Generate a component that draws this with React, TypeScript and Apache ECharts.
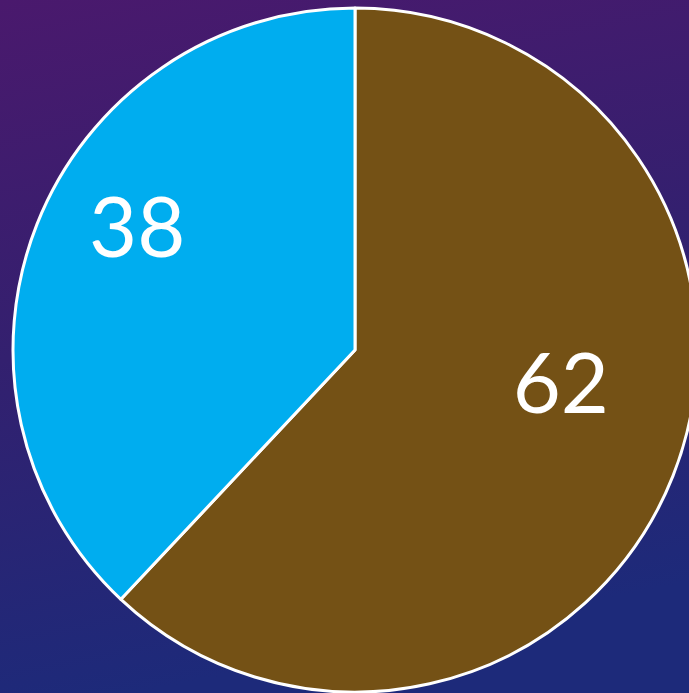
import React, { useEffect, useRef } from "react";
import * as echarts from "echarts";

const categories = ["A", "B"];
const values = [62, 38];
const colors = ["#745115", "#00ADEF"];
const labelShift = [
  [44, -33],
  [-56, -61],
];

export default function App() {
  const ref = useRef<HTMLDivElement>(null);
  useEffect(() => {
    const chart = echarts.init(ref.current!, null, { renderer: "svg" });
    chart.setOption({
      animation: false,
      backgroundColor: {
        type: "linear",
        x: 0,
        y: 0,
        x2: 0.2,
        y2: 1,
        colorStops: [
          { offset: 0, color: "#4a196d" },
          { offset: 0.5, color: "#33206f" },
          { offset: 1, color: "#1d2a7a" },
        ],
      },
      series: [
        {
          type: "pie",
          center: [355, 350],
          radius: [0, 342],
          startAngle: 90,
          clockwise: true,
          avoidLabelOverlap: false,
          itemStyle: { borderColor: "#ffffff", borderWidth: 3 },
          label: {
            show: true,
            position: "inside",
            formatter: "{c}",
            color: "#ffffff",
            fontSize: 83,
            fontFamily: "Lato, 'Open Sans', sans-serif",
          },
          labelLine: { show: false },
          emphasis: { disabled: true },
          labelLayout: (p: any) => ({
            dx: labelShift[p.dataIndex][0],
            dy: labelShift[p.dataIndex][1],
          }),
          data: categories.map((c, i) => ({
            name: c,
            value: values[i],
            itemStyle: { color: colors[i] },
          })),
        },
      ],
    });
    return () => chart.dispose();
  }, []);
  return (
    <div
      ref={ref}
      style={{ position: "fixed", left: 0, top: 0, width: 689, height: 693 }}
    />
  );
}
